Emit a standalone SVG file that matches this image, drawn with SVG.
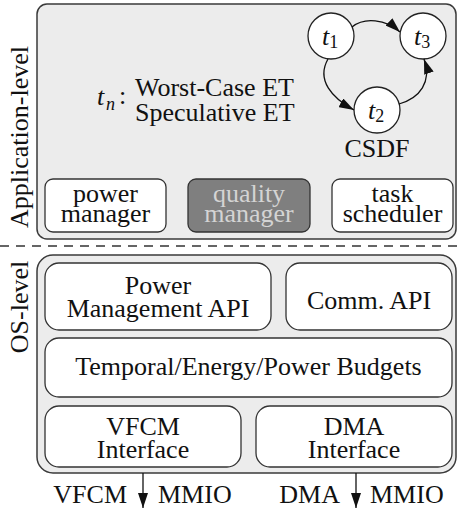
<svg xmlns="http://www.w3.org/2000/svg" width="458" height="510" viewBox="0 0 458 510" font-family="'Liberation Serif', 'DejaVu Serif', serif">
<defs>
<marker id="ah" markerUnits="userSpaceOnUse" markerWidth="16" markerHeight="10" refX="15" refY="5" orient="auto">
<path d="M0,0 L15,5 L0,10 z" fill="#111"/>
</marker>
</defs>
<style>
.cont { fill:#ececec; stroke:#3a3a3a; stroke-width:1.5 }
.box { fill:#ffffff; stroke:#333; stroke-width:1.3 }
.qbox { fill:#7f7f7f; stroke:#333; stroke-width:1.3 }
.circ { fill:#ffffff; stroke:#222; stroke-width:1.3 }
text { font-family:'Liberation Serif', 'DejaVu Serif', serif; font-size:26px; fill:#111 }
.c { text-anchor:middle }
.it { font-style:italic }
.sub { font-size:18px }
.light { fill:#d4d4d4 }
.edge { fill:none; stroke:#111; stroke-width:1.3; marker-end:url(#ah) }
.dash { stroke:#333; stroke-width:1.5; stroke-dasharray:9 7 }
</style>

<g id="app-level">
<rect class="cont" x="37" y="4" width="419" height="235" rx="10"/>
<text class="c" transform="translate(28,137) rotate(-90)">Application-level</text>
</g>
<g id="et-label">
<text x="97" y="105"><tspan class="it">t</tspan><tspan class="it sub" x="106" dy="5">n</tspan><tspan x="119" dy="-6">:</tspan></text>
<text x="135" y="96">Worst-Case ET<tspan x="135" dy="25">Speculative ET</tspan></text>
</g>
<g id="t1">
<circle class="circ" cx="331" cy="36" r="23"/>
<text x="322" y="45"><tspan class="it">t</tspan><tspan class="sub" dy="3">1</tspan></text>
</g>
<g id="t3">
<circle class="circ" cx="423" cy="36" r="23"/>
<text x="414" y="45"><tspan class="it">t</tspan><tspan class="sub" dy="3">3</tspan></text>
</g>
<g id="t2">
<circle class="circ" cx="377" cy="110" r="23"/>
<text x="368" y="119"><tspan class="it">t</tspan><tspan class="sub" dy="3">2</tspan></text>
</g>
<g id="csdf-label">
<text class="c" x="377" y="157">CSDF</text>
</g>
<g id="power-manager">
<rect class="box" x="45" y="179" width="121" height="53" rx="8"/>
<text class="c" x="105.5" y="202">power<tspan x="105.5" dy="20">manager</tspan></text>
</g>
<g id="quality-manager">
<rect class="qbox" x="188" y="179" width="122" height="53" rx="8"/>
<text class="c light" x="249" y="202">quality<tspan x="249" dy="20">manager</tspan></text>
</g>
<g id="task-scheduler">
<rect class="box" x="332" y="179" width="121" height="53" rx="8"/>
<text class="c" x="392.5" y="202">task<tspan x="392.5" dy="20">scheduler</tspan></text>
</g>

<line class="dash" x1="0" y1="246" x2="458" y2="246"/>

<g id="os-level">
<rect class="cont" x="37" y="255" width="419" height="218" rx="16"/>
<text class="c" transform="translate(28,307) rotate(-90)">OS-level</text>
</g>
<g id="power-management-api">
<rect class="box" x="45" y="263" width="226" height="67" rx="14"/>
<text class="c" x="158" y="294">Power<tspan x="158" dy="23">Management API</tspan></text>
</g>
<g id="comm-api">
<rect class="box" x="286" y="263" width="166" height="67" rx="14"/>
<text class="c" x="369" y="309">Comm. API</text>
</g>
<g id="budgets">
<rect class="box" x="45" y="338" width="407" height="59" rx="14"/>
<text class="c" x="248.5" y="375">Temporal/Energy/Power Budgets</text>
</g>
<g id="vfcm-interface">
<rect class="box" x="45" y="406" width="196" height="61" rx="14"/>
<text class="c" x="143" y="435">VFCM<tspan x="143" dy="23">Interface</tspan></text>
</g>
<g id="dma-interface">
<rect class="box" x="256" y="406" width="196" height="61" rx="14"/>
<text class="c" x="354" y="435">DMA<tspan x="354" dy="23">Interface</tspan></text>
</g>
<g id="bottom-labels">
<text x="127" y="503" text-anchor="end">VFCM</text>
<text x="158" y="503">MMIO</text>
<text x="340" y="503" text-anchor="end">DMA</text>
<text x="370" y="503">MMIO</text>
</g>

<g id="connectors">
<path class="edge" d="M352 27 C364 17 386 19 400 32"/>
<path class="edge" d="M328 59 C316 80 332 98 354 110"/>
<path class="edge" d="M399 104 C420 98 432 82 424 59"/>
<path class="edge" d="M143 473 L143 508"/>
<path class="edge" d="M356 473 L356 508"/>
</g>
</svg>
